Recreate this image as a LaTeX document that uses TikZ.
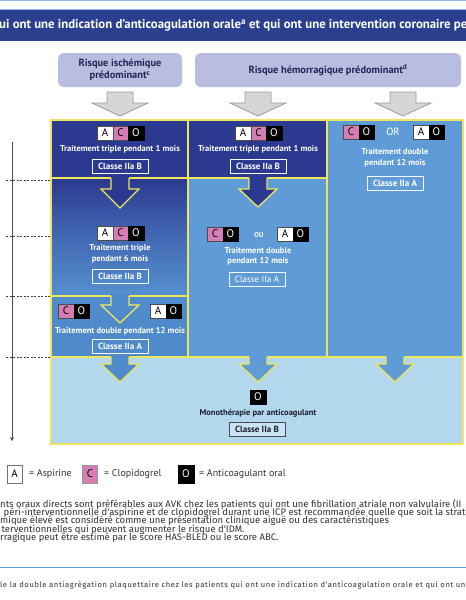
\documentclass[tikz,border=0pt]{standalone}
\usepackage{fontspec}
\setmainfont{PT Sans}
\newfontfamily\footfam{Fira Sans}
\newfontfamily\smallfam[LetterSpace=8]{Fira Sans}
\usetikzlibrary{arrows.meta}
\definecolor{navy}{HTML}{2B3990}
\definecolor{midblue}{HTML}{5F9CD7}
\definecolor{rowthree}{HTML}{4F8BCB}
\definecolor{gradbot}{HTML}{5590D0}
\definecolor{lightblue}{HTML}{B3D8EE}
\definecolor{yel}{HTML}{EDE65A}
\definecolor{pinkC}{HTML}{D67DB6}
\definecolor{lav}{HTML}{B9BDDF}
\definecolor{hdrtext}{HTML}{1E2858}
\definecolor{titlebar}{HTML}{2B3F8F}
\definecolor{grayfill}{HTML}{D6D6D6}
\definecolor{grayline}{HTML}{9A9A9A}
\definecolor{topline}{HTML}{8FB8E0}
\definecolor{rule}{HTML}{5BA3D9}
\definecolor{ftext}{HTML}{333333}
\definecolor{darktext}{HTML}{1B1F2E}
\newcommand{\yarrow}[5]{%
  \fill[#5] (#1-9,#2-1.6) -- (#1-9,#3) -- (#1-19,#3) -- (#1,#4) -- (#1+19,#3) -- (#1+9,#3) -- (#1+9,#2-1.6) -- cycle;
  \draw[yel,line width=1.3pt,line join=miter] (#1-9,#2) -- (#1-9,#3) -- (#1-19,#3) -- (#1,#4) -- (#1+19,#3) -- (#1+9,#3) -- (#1+9,#2);
}
\newcommand{\garrow}[1]{%
  \draw[grayline,fill=grayfill,line width=.8pt] (#1-13,92) -- (#1-13,103) -- (#1-28,103) -- (#1,116) -- (#1+28,103) -- (#1+13,103) -- (#1+13,92) -- cycle;
}
\tikzset{
  lA/.style={draw=black!70, fill=white, text=black, minimum width=15.5pt, minimum height=14pt, inner sep=0pt, font=\fontsize{11}{11}\selectfont, line width=.4pt},
  lC/.style={lA, fill=pinkC},
  lO/.style={lA, fill=black, text=white, draw=black},
  wtxt/.style={text=white, font=\bfseries\fontsize{8.5}{10.5}\selectfont, align=center, inner sep=0pt},
  classbox/.style={draw=white!85!lightblue, line width=.7pt, text=white, font=\bfseries\fontsize{9}{9}\selectfont, minimum width=56pt, minimum height=14pt, inner sep=1pt},
  hdr/.style={text=hdrtext, font=\bfseries\fontsize{10.4}{12.5}\selectfont, align=center, inner sep=0pt},
  foot/.style={anchor=west, text=ftext, font=\footfam\fontsize{9.5}{9.5}\selectfont, inner sep=0pt},
  legtxt/.style={anchor=west, text=ftext, font=\fontsize{10}{10}\selectfont, inner sep=0pt},
  tick/.style={dash pattern=on 2pt off 1.5pt, draw=black!75, line width=.7pt},
}
\begin{document}
\begin{tikzpicture}[x=1pt,y=-1pt]
\clip (0,0) rectangle (466,600);
\fill[white] (0,0) rectangle (466,600);
% title bar
\draw[topline,line width=1pt] (0,0.5) -- (466,0.5);
\draw[topline,line width=.8pt] (0,9.4) -- (466,9.4);
\fill[titlebar] (0,10) rectangle (466,41);
\node[anchor=west,text=white,font=\bfseries\fontsize{12.8}{14}\selectfont,inner sep=0pt] (title) at (-1,25.5) {ui ont une indication d'anticoagulation orale\textsuperscript{a} et qui ont une intervention coronaire pe};
% headers
\fill[lav,rounded corners=6pt] (58,53) rectangle (182,87);
\node[hdr] (h1) at (120,70) {Risque ischémique\\prédominant\textsuperscript{c}};
\fill[lav,rounded corners=6pt] (195,53) rectangle (461,87);
\node[hdr] (h2) at (328,70) {Risque hémorragique prédominant\textsuperscript{d}};
% gray arrows
\garrow{120}
\garrow{258}
\garrow{403}
% cells
\fill[navy] (51,120) rectangle (188,178);
\shade[top color=navy, bottom color=gradbot, middle color=navy!45!gradbot] (51,178) rectangle (188,296);
\fill[rowthree] (51,296) rectangle (188,357);
\fill[navy] (188,120) rectangle (327,178);
\fill[midblue] (188,178) rectangle (327,357);
\fill[midblue] (327,120) rectangle (463,357);
\fill[lightblue] (51,357) rectangle (463,444);
\begin{scope}[yel,line width=1.8pt]
\draw (51,120) rectangle (463,444);
\draw (188,120) -- (188,357);
\draw (327,120) -- (327,357);
\draw (51,178) -- (327,178);
\draw (51,296) -- (188,296);
\draw (51,357) -- (463,357);
\end{scope}
% arrows in panels
\yarrow{120}{178}{189}{208}{navy}
\yarrow{120}{296}{305}{323}{rowthree}
\yarrow{120}{357}{364}{382}{rowthree}
\yarrow{258}{178}{189}{207}{navy}
\yarrow{258}{357}{364}{382}{midblue}
\yarrow{395}{357}{364}{382}{midblue}
% col1 row1
\node[lA] (a1) at (105,133) {A};
\node[lC] (c1) at (120.5,133) {C};
\node[lO] (o1) at (136,133) {O};
\node[wtxt] (t1) at (120,149.5) {Traitement triple pendant 1 mois};
\node[classbox] (k1) at (120,166.5) {Classe IIa B};
% col2 row1
\node[lA] (a2) at (243,133) {A};
\node[lC] (c2) at (258.5,133) {C};
\node[lO] (o2) at (274,133) {O};
\node[wtxt] (t2) at (258,149.5) {Traitement triple pendant 1 mois};
\node[classbox] (k2) at (258,166.5) {Classe IIa B};
% col1 row2
\node[lA] (a3) at (105,233) {A};
\node[lC] (c3) at (120.5,233) {C};
\node[lO] (o3) at (136,233) {O};
\node[wtxt] (t3) at (120,254) {Traitement triple\\pendant 6 mois};
\node[classbox] (k3) at (120,276) {Classe IIa B};
% col1 row3
\node[lC] (c4) at (66,311) {C};
\node[lO] (o4) at (81.5,311) {O};
\node[lA] (a5) at (158,311) {A};
\node[lO] (o5) at (173.5,311) {O};
\node[wtxt] (t4) at (120,331) {Traitement double pendant 12 mois};
\node[classbox] (k4) at (120,346) {Classe IIa A};
% col2 middle
\node[lC] (c6) at (215,234) {C};
\node[lO] (o6) at (230.5,234) {O};
\node[wtxt,font=\bfseries\fontsize{7}{7}\selectfont] (ou) at (259,235) {OU};
\node[lA] (a7) at (285,234) {A};
\node[lO] (o7) at (300.5,234) {O};
\node[wtxt] (t5) at (258,256.5) {Traitement double\\pendant 12 mois};
\node[classbox,font=\fontsize{9}{9}\selectfont] (k5) at (257,279.5) {Classe IIa A};
% col3
\node[lC] (c8) at (351,132) {C};
\node[lO] (o8) at (366.5,132) {O};
\node[wtxt,font=\fontsize{10.5}{10}\selectfont] (or) at (393,132) {OR};
\node[lA] (a9) at (421,132) {A};
\node[lO] (o9) at (436.5,132) {O};
\node[wtxt] (t6) at (395,158) {Traitement double\\pendant 12 mois};
\node[classbox] (k6) at (395,183) {Classe IIa A};
% bottom
\node[lO] (o10) at (258,397) {O};
\node[wtxt,text=darktext] (t7) at (258,413) {Monothérapie par anticoagulant};
\node[classbox,draw=darktext!80,fill=lightblue!70!white,text=darktext] (k7) at (257,429.5) {Classe IIa B};
% timeline
\coordinate (tl0) at (12,142);
\coordinate (tl1) at (12,441);
\draw[black!70,line width=.7pt,-{Stealth[length=4pt,width=4pt]}] (tl0) -- (tl1);
\foreach \yy/\nm in {180/d1,236/d2,296/d3,357/d4} {
  \coordinate (\nm a) at (6,\yy);
  \coordinate (\nm b) at (50,\yy);
  \draw[tick] (\nm a) -- (\nm b);
}
% legend
\node[lA,draw=black!55,minimum width=15pt,minimum height=18pt] (la) at (14.5,474) {A};
\node[legtxt] (lat) at (29,474) {= Aspirine};
\node[lA,fill=pinkC,draw=black!40,minimum width=15pt,minimum height=18pt] (lc) at (90,474) {C};
\node[legtxt] (lct) at (104,474) {= Clopidogrel};
\node[lO,minimum width=16pt,minimum height=18pt] (lo) at (186,474) {O};
\node[legtxt] (lot) at (199,474) {= Anticoagulant oral};
% footnotes
\node[foot] (f1) at (0,504) {nts oraux directs sont préférables aux AVK chez les patients qui ont une fibrillation atriale non valvulaire (II};
\node[foot] (f2) at (3.5,512.5) {péri-interventionnelle d'aspirine et de clopidogrel durant une ICP est recommandée quelle que soit la straté};
\node[foot] (f3) at (0,521) {mique élevé est considéré comme une présentation clinique aiguë ou des caractéristiques};
\node[foot] (f4) at (1.5,529.5) {terventionnelles qui peuvent augmenter le risque d'IDM.};
\node[foot] (f5) at (0,538) {rragique peut être estimé par le score HAS-BLED ou le score ABC.};
\draw[rule,line width=.8pt] (0,567) -- (466,567);
\node[foot,font=\smallfam\fontsize{7.6}{8}\selectfont] (f6) at (0,585) {le la double antiagrégation plaquettaire chez les patients qui ont une indication d'anticoagulation orale et qui ont une i};
\end{tikzpicture}
\end{document}
